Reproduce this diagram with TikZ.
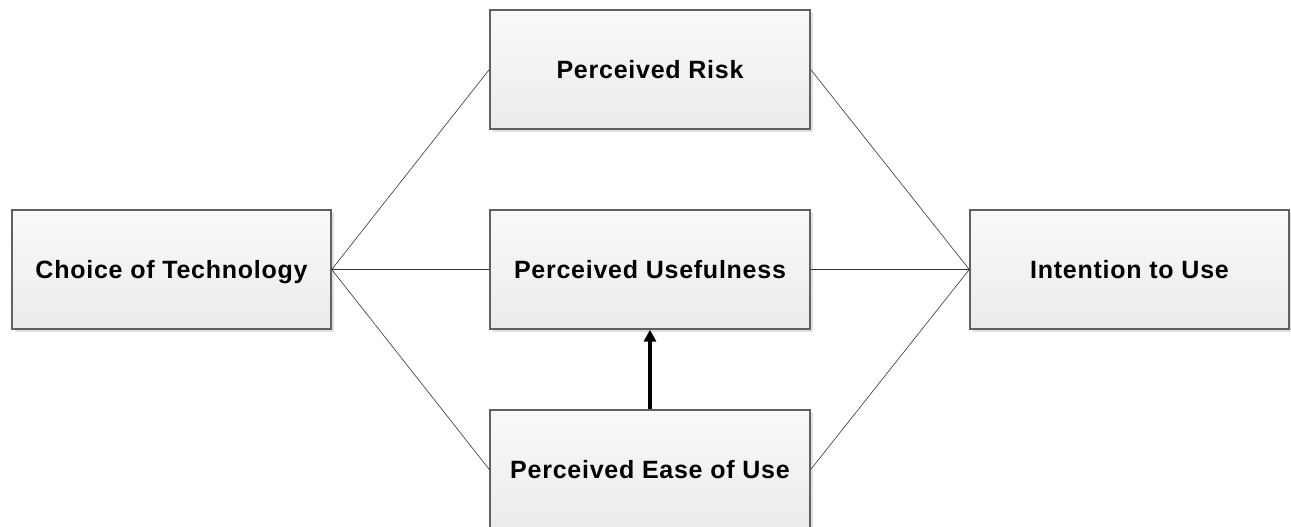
\documentclass[tikz,border=0pt]{standalone}
\usepackage{fontspec}
\setmainfont{Liberation Sans}
\newfontfamily\boxfont{Liberation Sans}[LetterSpace=3]
\usetikzlibrary{shadows,arrows.meta}
\begin{document}
\begin{tikzpicture}[x=1pt,y=-1pt,
  box/.style={draw=black!62, line width=1.4pt, rectangle,
    top color=white!98!black, bottom color=black!8,
    minimum width=319pt, minimum height=119pt, inner sep=0pt,
    text height=18pt, text depth=0pt,
    font=\boxfont\fontsize{25}{30}\selectfont\bfseries, text=black,
    drop shadow={shadow xshift=3pt, shadow yshift=-3pt, fill=black!12, opacity=1}},
  link/.style={line width=0.6pt, draw=black!80},
  mainarrow/.style={line width=3.5pt, draw=black, -{Triangle[length=12pt,width=12pt]}}]
\useasboundingbox (0,0) rectangle (1291,527);
\node[box] (choice) at (171.5,269.5) {Choice of Technology};
\node[box, minimum width=320pt] (risk) at (650,69.5) {Perceived Risk};
\node[box, minimum width=320pt] (useful) at (650,269.5) {Perceived Usefulness};
\node[box, minimum width=320pt] (ease) at (650,469.5) {Perceived Ease of Use};
\node[box] (intent) at (1129.5,269.5) {Intention to Use};
\draw[link] (choice.east) -- (risk.west);
\draw[link] (choice.east) -- (useful.west);
\draw[link] (choice.east) -- (ease.west);
\draw[link] (risk.east) -- (intent.west);
\draw[link] (useful.east) -- (intent.west);
\draw[link] (ease.east) -- (intent.west);
\draw[mainarrow] (ease.north) -- (useful.south);
\end{tikzpicture}
\end{document}
